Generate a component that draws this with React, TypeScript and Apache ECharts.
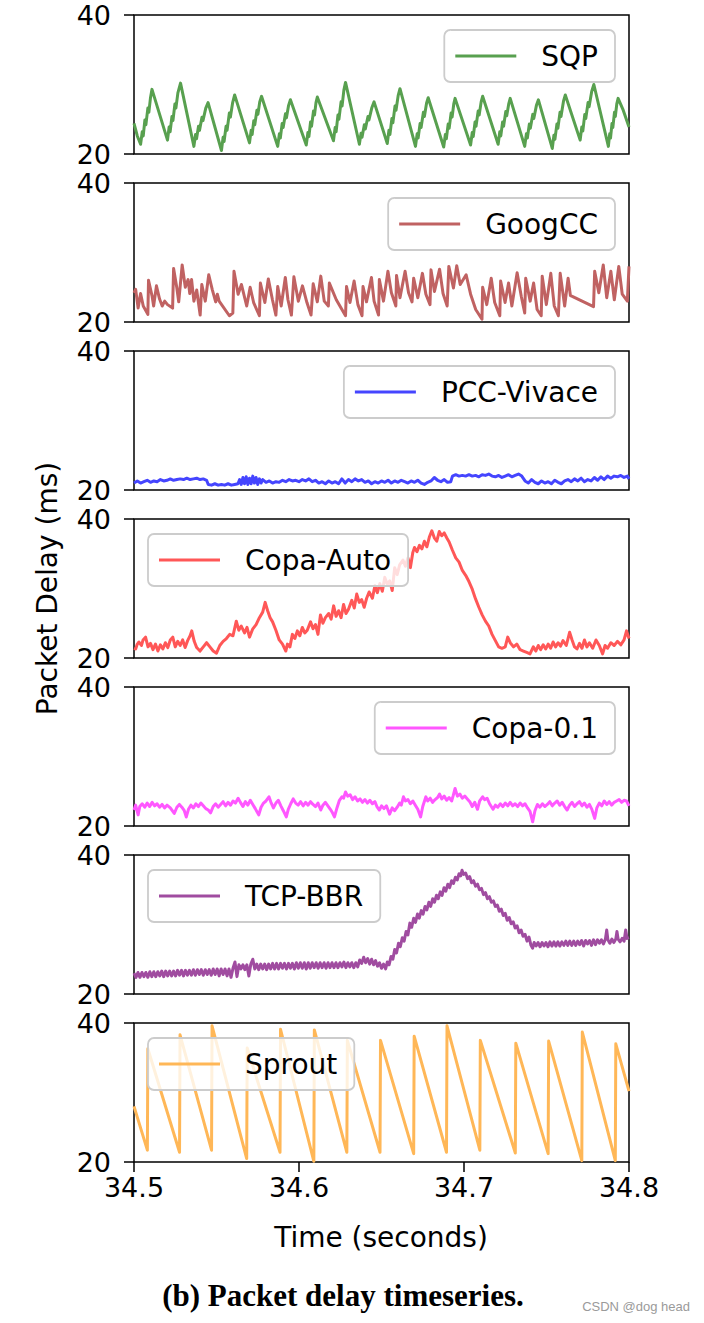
import React, { useEffect, useRef } from 'react';
import * as echarts from 'echarts';

// time axis (seconds); series times are given in milliseconds after 34.5 s
const T0 = 34.5;
const X_MIN = 34.5;
const X_MAX = 34.8;
const X_STEP = 0.1;
const Y_MIN = 20;
const Y_MAX = 40;
const Y_STEP = 20;

const seriesNames = ['SQP', 'GoogCC', 'PCC-Vivace', 'Copa-Auto', 'Copa-0.1', 'TCP-BBR', 'Sprout'];
const seriesColors = ['#58a04f', '#c06262', '#4545ff', '#ff5757', '#ff57ff', '#a04ca0', '#ffb757'];
const legendSides = ['right', 'right', 'right', 'left', 'right', 'left', 'left'];

const sqp: number[][] = [
  [0, 24.4], [2.0, 22.6], [4.0, 21.4],
  [5.0, 23.2], [5.6, 22.6], [6.6, 24.9], [7.2, 24.2], [8.4, 26.6], [9.0, 26.0], [10.0, 28.1], [10.9, 29.3],
  [20.3, 22.0],
  [21.3, 23.9], [21.9, 23.2], [23.0, 25.4], [23.6, 24.8], [24.8, 27.2], [25.4, 26.6], [26.6, 28.8], [28.2, 30.2],
  [36.3, 21.1],
  [37.3, 22.8], [37.9, 22.2], [39.1, 24.0], [39.7, 23.4], [41.2, 25.3], [41.8, 24.8], [43.5, 26.6], [44.9, 27.4],
  [53.0, 20.5],
  [54.0, 22.4], [54.6, 21.8], [55.8, 24.0], [56.4, 23.4], [57.8, 25.9], [58.4, 25.3], [59.8, 27.4], [61.0, 28.5],
  [70.0, 21.6],
  [71.0, 23.4], [71.6, 22.8], [72.6, 24.8], [73.2, 24.2], [74.5, 26.3], [75.1, 25.7], [76.2, 27.5], [77.3, 28.3],
  [87.1, 21.1],
  [88.1, 22.9], [88.7, 22.3], [89.8, 24.4], [90.4, 23.8], [91.8, 25.8], [92.4, 25.2], [93.7, 27.0], [94.8, 27.8],
  [104.4, 21.3],
  [105.4, 23.1], [106.0, 22.5], [107.0, 24.6], [107.6, 24.0], [108.8, 26.2], [109.4, 25.6], [110.3, 27.4], [111.1, 28.2],
  [120.9, 21.9],
  [121.9, 23.8], [122.5, 23.2], [123.6, 25.6], [124.2, 25.0], [125.5, 27.5], [126.1, 26.9], [127.2, 29.2], [128.2, 30.3],
  [136.6, 21.4],
  [137.6, 23.0], [138.2, 22.4], [139.6, 24.2], [140.2, 23.6], [141.8, 25.4], [142.4, 24.9], [144.2, 26.7], [145.5, 27.5],
  [153.5, 21.5],
  [154.5, 23.4], [155.1, 22.8], [156.3, 25.1], [156.9, 24.5], [158.2, 26.9], [158.8, 26.3], [160.1, 28.4], [161.2, 29.4],
  [170.6, 21.1],
  [171.6, 22.9], [172.2, 22.3], [173.4, 24.4], [174.0, 23.8], [175.4, 26.0], [176.0, 25.4], [177.3, 27.3], [178.3, 28.1],
  [187.7, 21.0],
  [188.7, 22.8], [189.3, 22.2], [190.4, 24.3], [191.0, 23.7], [192.2, 25.9], [192.8, 25.3], [193.8, 27.2], [194.6, 28.0],
  [204.0, 21.3],
  [205.0, 23.1], [205.6, 22.5], [206.7, 24.6], [207.3, 24.0], [208.6, 26.2], [209.2, 25.6], [210.4, 27.5], [211.3, 28.3],
  [220.7, 21.4],
  [221.7, 23.2], [222.3, 22.6], [223.4, 24.6], [224.0, 24.0], [225.3, 26.1], [225.9, 25.5], [227.1, 27.2], [228.0, 28.0],
  [236.8, 21.1],
  [237.8, 22.9], [238.4, 22.3], [239.6, 24.3], [240.2, 23.7], [241.7, 25.7], [242.3, 25.1], [243.9, 27.0], [245.1, 27.8],
  [253.5, 20.8],
  [254.5, 22.7], [255.1, 22.1], [256.3, 24.3], [256.9, 23.7], [258.2, 26.0], [258.8, 25.4], [260.3, 27.6], [261.4, 28.5],
  [270.4, 22.0],
  [271.4, 23.9], [272.0, 23.3], [273.2, 25.7], [273.8, 25.1], [275.2, 27.4], [275.8, 26.8], [277.4, 29.0], [278.7, 30.0],
  [287.5, 21.1],
  [288.3, 22.9], [288.8, 22.3], [289.7, 24.4], [290.2, 23.8], [291.2, 26.0], [291.7, 25.4], [292.6, 27.2], [293.4, 28.0],
  [296.5, 26.3], [300.0, 23.9],
];

const googcc: number[][] = [
  [0, 24.2], [1.0, 24.7], [2.5, 22.0], [4.0, 24.1], [5.6, 22.3], [8.4, 21.1], [8.8, 26.0], [10.9, 23.8], [11.9, 22.3],
  [13.6, 25.2], [15.5, 23.3], [17.1, 22.3], [18.6, 23.0], [20.3, 22.5], [23.4, 22.0], [24.0, 27.7], [25.9, 25.0],
  [27.1, 22.9], [29.2, 28.2], [31.1, 25.0], [32.8, 26.1], [33.8, 24.1], [34.9, 26.1], [36.3, 23.0], [38.0, 24.6],
  [40.1, 21.0], [41.1, 25.4], [43.2, 23.0], [45.3, 26.8], [47.4, 24.7], [49.5, 22.9], [50.5, 24.0], [51.6, 23.0],
  [57.8, 20.9], [59.9, 21.3], [60.6, 27.3], [63.1, 24.0], [65.1, 25.4], [68.3, 22.3], [70.4, 25.0], [72.5, 22.8],
  [76.0, 20.9], [76.6, 25.6], [79.3, 22.8], [81.4, 26.2], [83.9, 23.2], [86.0, 21.0], [87.1, 25.1], [89.2, 22.3],
  [91.7, 26.4], [93.3, 23.2], [95.4, 21.0], [96.9, 26.5], [99.6, 23.0], [102.1, 25.2], [104.8, 22.8], [107.3, 21.0],
  [108.6, 25.5], [111.1, 22.9], [113.2, 26.6], [115.3, 23.0], [117.8, 22.3], [118.4, 25.6], [122.6, 23.2],
  [128.2, 20.9], [128.8, 25.1], [130.9, 22.8], [133.4, 25.9], [135.7, 22.5], [138.2, 20.9], [138.8, 25.1],
  [140.9, 22.9], [143.9, 26.4], [145.5, 23.0], [148.2, 21.0], [148.7, 26.1], [151.2, 23.0], [153.9, 27.3],
  [156.0, 24.2], [158.7, 22.3], [159.1, 26.7], [161.2, 23.5], [164.3, 27.3], [166.4, 24.2], [168.5, 22.9],
  [169.5, 26.3], [172.0, 23.5], [174.8, 27.0], [176.9, 24.0], [179.4, 22.5], [180.0, 27.5], [182.1, 24.4],
  [185.2, 27.6], [187.3, 24.1], [189.8, 22.3], [190.8, 28.0], [193.6, 24.9], [195.6, 28.1], [197.7, 25.4],
  [201.3, 26.8], [204.0, 24.0], [207.1, 21.8], [210.9, 20.4], [211.3, 25.0], [213.8, 22.5], [216.5, 26.3],
  [218.6, 22.8], [221.7, 20.9], [222.2, 25.9], [224.9, 22.8], [227.0, 25.6], [229.0, 22.3], [232.2, 27.1],
  [234.7, 23.7], [236.8, 21.3], [237.4, 26.3], [240.1, 23.0], [242.2, 25.6], [244.3, 21.8], [246.8, 20.9],
  [247.4, 26.6], [249.9, 22.5], [252.6, 27.0], [254.7, 22.3], [257.2, 20.9], [258.3, 27.0], [261.0, 22.3],
  [263.1, 26.3], [264.5, 23.8], [265.6, 23.7], [278.5, 22.2], [279.2, 27.3], [281.7, 24.2], [284.4, 28.2],
  [286.5, 23.5], [289.0, 27.3], [291.1, 23.2], [293.8, 28.0], [295.9, 24.0], [299.0, 23.0], [300.0, 28.0],
];

const pccVivace: number[][] = [
  [0, 21.0], [2, 21.3], [4, 21.0], [6, 21.2], [8, 21.4], [10, 21.1], [12, 21.3], [14, 21.2], [16, 21.5], [18, 21.3],
  [20, 21.4], [22, 21.6], [24, 21.4], [26, 21.5], [28, 21.6], [30, 21.5], [32, 21.7], [34, 21.5], [36, 21.6], [38, 21.7],
  [40, 21.5], [42, 21.6], [44, 21.4], [45, 20.8], [47, 20.7], [49, 20.9], [51, 20.7], [53, 20.8], [55, 20.7], [57, 20.9],
  [59, 20.7], [61, 20.8], [63, 20.9], [64, 21.5], [65, 20.8], [66, 21.8], [67, 20.9], [68, 21.9], [69, 20.8], [70, 21.7],
  [71, 20.9], [72, 22.0], [73, 21.0], [74, 21.8], [75, 20.8], [76, 21.6], [77, 21.0], [78, 21.5], [80, 21.1], [82, 21.3],
  [84, 21.0], [86, 21.2], [88, 21.1], [90, 21.4], [92, 21.2], [94, 21.5], [96, 21.3], [98, 21.4], [100, 21.2], [102, 21.5],
  [104, 21.3], [106, 21.6], [108, 21.2], [110, 21.4], [112, 21.0], [114, 21.2], [116, 20.9], [118, 21.3], [120, 21.0],
  [122, 21.2], [124, 20.9], [126, 21.6], [128, 21.0], [130, 21.5], [132, 21.2], [134, 21.6], [136, 21.3], [138, 21.5],
  [140, 21.1], [142, 21.3], [144, 20.9], [146, 21.2], [148, 21.0], [150, 21.3], [152, 21.1], [154, 21.4], [156, 21.0],
  [158, 21.3], [160, 21.1], [162, 21.4], [164, 21.2], [166, 21.0], [168, 21.3], [170, 21.1], [172, 21.4], [174, 21.0],
  [176, 20.8], [178, 21.1], [180, 21.3], [182, 21.8], [184, 21.4], [186, 21.2], [188, 21.5], [190, 21.1], [192, 21.2],
  [193, 22.0], [195, 22.2], [197, 22.0], [199, 22.1], [201, 22.0], [203, 22.2], [205, 22.0], [207, 22.1], [209, 21.9],
  [211, 22.2], [213, 22.1], [215, 22.3], [217, 22.0], [219, 21.9], [221, 22.1], [223, 21.8], [225, 22.0], [227, 22.2],
  [229, 21.9], [231, 22.1], [233, 22.3], [235, 22.0], [237, 21.3], [239, 21.0], [241, 21.5], [243, 21.1], [245, 20.9],
  [247, 21.3], [249, 21.0], [251, 21.2], [253, 20.9], [255, 21.4], [257, 21.1], [259, 20.9], [261, 21.3], [263, 21.5],
  [265, 21.2], [267, 21.6], [269, 21.3], [271, 21.7], [273, 21.2], [275, 21.5], [277, 21.3], [279, 21.8], [281, 21.4],
  [283, 21.9], [285, 21.5], [287, 22.0], [289, 21.7], [291, 22.0], [293, 21.9], [295, 22.1], [297, 21.8], [299, 22.0],
  [300, 21.6],
];

const copaAuto: number[][] = [
  [0, 21.4], [1.0, 21.3], [2.0, 22.0], [3.0, 22.3], [4.5, 21.8], [5.5, 22.6], [7.0, 23.0], [8.5, 21.6], [10, 22.1],
  [11.5, 21.2], [13, 22.0], [14.5, 21.0], [16, 21.9], [17.5, 21.3], [19, 22.2], [20.5, 21.5], [22, 22.6], [23.5, 23.0],
  [25, 21.6], [26.5, 22.4], [28, 21.8], [29.5, 22.6], [31, 21.5], [32.5, 22.5], [34, 23.2], [35, 23.9], [36.5, 22.4],
  [38, 21.5], [40, 21.0], [42, 21.6], [44, 22.2], [46, 21.6], [48, 21.0], [50, 20.7], [52, 21.8], [54, 22.4], [56, 22.8],
  [58, 23.4], [60, 23.2], [62, 25.3], [63.5, 24.0], [65, 24.6], [67, 23.6], [68.5, 24.4], [70, 23.0], [72, 24.2],
  [74, 24.8], [76, 25.8], [78, 26.6], [79.5, 28.0], [81, 26.8], [82.5, 25.8], [84, 25.2], [86, 24.0], [88, 22.6],
  [90, 22.0], [92, 21.0], [93, 22.0], [94.5, 21.6], [96, 23.4], [97.5, 22.8], [99, 23.9], [100.5, 23.2], [102, 24.4],
  [103.5, 23.6], [105, 24.0], [107, 25.2], [108.5, 24.2], [110, 24.8], [111.5, 23.4], [113, 26.2], [114.5, 25.0],
  [116, 25.8], [118, 26.4], [119.5, 25.6], [121, 27.5], [122.5, 26.0], [124, 26.8], [125.5, 25.8], [127, 27.7],
  [128.5, 26.4], [130, 27.0], [132, 28.3], [133.5, 27.2], [135, 29.2], [136.5, 28.0], [138, 28.4], [139.5, 27.3],
  [141, 28.6], [142.5, 29.5], [144.5, 28.6], [146, 30.4], [147.5, 29.4], [149, 30.7], [150.5, 29.6], [152, 31.6],
  [153.5, 30.6], [155, 31.1], [156.5, 29.7], [158, 33.0], [159.5, 32.0], [161, 33.4], [163, 34.1], [164.5, 33.2],
  [166, 34.4], [167.5, 33.0], [169, 35.2], [170, 35.9], [171.5, 35.3], [173, 36.2], [174.5, 35.7], [176, 36.8],
  [177.5, 36.0], [179, 37.4], [180.5, 38.3], [182, 37.3], [183.5, 36.8], [185, 38.2], [186.5, 37.6], [188, 38.0],
  [189.5, 37.3], [191, 36.7], [193, 35.5], [195, 34.4], [197, 33.8], [199, 32.6], [201, 31.9], [203, 31.0], [205, 29.9],
  [207, 28.5], [209, 27.3], [211, 26.2], [213, 25.3], [215, 24.6], [217, 23.4], [219, 22.5], [221, 21.6], [223, 21.4],
  [225, 21.6], [226.5, 23.0], [228, 22.2], [230, 21.6], [232, 22.0], [234, 21.2], [236, 21.0], [238, 20.8], [240, 20.6],
  [242, 21.6], [243.5, 21.0], [245, 21.8], [246.5, 21.2], [248, 21.9], [249.5, 21.3], [251, 22.0], [252.5, 21.4],
  [254, 22.3], [255.5, 21.6], [257, 22.2], [258.5, 21.7], [260, 22.5], [262, 21.8], [264, 23.7], [265.5, 22.6],
  [267, 21.6], [268.5, 21.3], [270, 22.1], [271.5, 21.4], [273, 22.6], [274.5, 21.6], [276, 22.2], [278, 21.4],
  [280, 22.6], [282, 21.8], [284, 20.6], [285.5, 21.8], [287, 21.4], [289, 22.2], [291, 21.8], [293, 22.4], [295, 21.9],
  [297, 22.6], [298.5, 23.9], [300, 22.8],
];

const copa01: number[][] = [
  [0, 22.3], [1, 23.0], [2.5, 21.6], [3.5, 22.8], [5, 23.2], [6.5, 22.7], [8, 23.3], [9.5, 22.8], [11, 23.4], [12.5, 22.9],
  [14, 23.2], [15.5, 22.7], [17, 23.1], [18.5, 22.6], [20, 23.0], [22, 22.6], [24.4, 21.8], [26, 22.7], [27.5, 23.1],
  [29, 22.7], [30.5, 22.2], [31.7, 21.3], [33, 22.4], [34.5, 23.0], [36, 22.6], [37.5, 23.2], [39, 22.8], [40.5, 23.3],
  [42, 22.9], [43.5, 22.5], [45, 22.3], [46.4, 21.9], [48, 22.8], [49.5, 23.2], [51, 22.7], [52.5, 23.1], [54, 23.5],
  [55.5, 22.9], [57, 23.4], [58.5, 23.0], [60, 23.6], [61.5, 23.3], [63.1, 24.0], [64.5, 23.4], [66, 22.8], [67.5, 23.5],
  [69, 23.0], [70.5, 23.7], [72, 23.1], [73.5, 22.5], [75.6, 21.6], [77, 22.7], [78.5, 23.3], [80, 23.6], [81.8, 24.2],
  [83, 23.4], [84.5, 22.6], [86, 23.3], [87.5, 23.7], [89, 22.9], [90.5, 22.2], [92.3, 21.3], [93.5, 22.4], [95, 23.2],
  [96.5, 23.9], [98, 23.3], [99.5, 23.0], [101, 23.5], [102.5, 22.9], [104, 23.4], [105.5, 23.0], [107, 23.5],
  [108.5, 23.1], [110, 22.8], [111.5, 23.3], [113.2, 22.3], [114.5, 23.0], [116, 23.4], [117.5, 22.9], [119, 22.4],
  [120.3, 21.9], [121.5, 21.3], [123, 22.6], [124.5, 23.7], [126, 24.2], [127, 24.0], [128.2, 24.9], [129.5, 24.3],
  [131, 24.5], [132.5, 23.8], [134, 24.2], [135.5, 23.6], [137, 23.9], [138.5, 23.4], [140, 23.8], [141.5, 23.3],
  [143, 23.7], [144.5, 23.2], [146, 23.5], [147.2, 22.8], [148.7, 22.3], [150, 22.9], [151.5, 22.5], [153, 22.9],
  [154.9, 21.7], [156.5, 22.6], [158, 22.2], [159.5, 22.7], [161, 23.3], [162, 23.0], [163.3, 24.2], [164.5, 23.6],
  [166, 23.8], [167.5, 23.2], [169, 23.6], [170.5, 23.0], [172, 22.4], [173.7, 21.3], [175, 22.8], [176.9, 24.2],
  [178, 23.6], [179.5, 24.0], [181, 23.4], [182.5, 23.8], [184, 24.1], [185.2, 24.6], [186.5, 23.9], [188, 24.3],
  [189.5, 23.7], [191, 24.1], [192.5, 23.6], [193.5, 24.4], [194.6, 25.4], [196, 24.3], [197.5, 24.6], [199, 24.0],
  [200.5, 24.3], [202, 23.9], [203.5, 23.5], [205, 22.8], [206.5, 23.4], [208.2, 22.4], [209.5, 23.6], [211.3, 24.2],
  [212.5, 23.8], [214, 24.0], [215.5, 23.2], [217.6, 22.4], [219, 23.0], [220.5, 22.7], [222, 23.2], [223.5, 22.8],
  [225, 23.3], [226.5, 22.9], [228, 23.4], [229.5, 22.9], [231, 23.2], [232.5, 22.8], [234, 23.3], [235.5, 22.9],
  [237, 23.2], [238.5, 22.6], [240, 22.1], [241.6, 20.6], [243, 22.2], [244.5, 23.1], [246, 22.7], [247.5, 23.2],
  [249, 22.8], [250.5, 23.1], [252, 23.5], [253.5, 22.9], [255, 23.3], [256.5, 23.6], [258, 23.0], [259.5, 23.4],
  [261, 22.8], [262.5, 22.3], [264, 23.0], [265.5, 23.4], [267, 22.8], [268.5, 23.2], [270, 23.5], [271.5, 22.9],
  [273, 23.3], [274.5, 22.7], [276, 23.1], [277.5, 22.4], [279.2, 21.1], [280.5, 22.6], [282, 23.3], [283.5, 22.9],
  [285, 23.6], [286.5, 23.1], [288, 23.5], [289.5, 23.0], [291, 23.4], [292.5, 23.6], [294, 23.8], [295.5, 23.4],
  [297, 23.7], [298.5, 23.6], [300, 22.9],
];

const tcpBbr: number[][] = [
  [0, 23.0], [1.2, 22.4], [2.4, 23.1], [3.6, 22.4], [4.8, 23.1], [6.0, 22.5], [7.2, 23.1], [8.4, 22.4], [9.6, 23.2],
  [10.8, 22.5], [12.0, 23.2], [13.2, 22.5], [14.4, 23.2], [15.6, 22.6], [16.8, 23.3], [18.0, 22.5], [19.2, 23.3],
  [20.4, 22.6], [21.6, 23.3], [22.8, 22.6], [24.0, 23.3], [25.2, 22.6], [26.4, 23.4], [27.6, 22.7], [28.8, 23.4],
  [30.0, 22.6], [31.2, 23.4], [32.4, 22.7], [33.6, 23.4], [34.8, 22.7], [36.0, 23.5], [37.2, 22.7], [38.4, 23.5],
  [39.6, 22.8], [40.8, 23.5], [42.0, 22.7], [43.2, 23.5], [44.4, 22.8], [45.6, 23.5], [46.8, 22.7], [48.0, 23.6],
  [49.2, 22.8], [50.4, 23.6], [51.6, 22.6], [52.8, 23.6], [54.0, 22.8], [55.2, 23.6], [56.4, 22.6], [57.6, 23.6],
  [58.8, 22.4], [60.0, 23.7], [61.2, 24.6], [62.4, 22.5], [63.6, 24.2],
  [64.8, 23.6], [66.0, 24.2], [67.2, 23.5], [68.4, 24.2], [69.6, 22.6], [70.8, 24.3], [72.0, 25.0], [73.2, 23.6],
  [74.4, 24.3], [75.6, 23.5], [76.8, 24.3], [78.0, 23.6], [79.2, 24.3], [80.4, 23.5], [81.6, 24.3], [82.8, 23.6],
  [84.0, 24.4], [85.2, 23.6], [86.4, 24.4], [87.6, 23.6], [88.8, 24.4], [90.0, 23.7], [91.2, 24.4], [92.4, 23.6],
  [93.6, 24.4], [94.8, 23.7], [96.0, 24.4], [97.2, 23.6], [98.4, 24.5], [99.6, 23.7], [100.8, 24.5], [102.0, 23.7],
  [103.2, 24.5], [104.4, 23.6], [105.6, 24.5], [106.8, 23.7], [108.0, 24.5], [109.2, 23.8], [110.4, 24.5], [111.6, 23.7],
  [112.8, 24.5], [114.0, 23.8], [115.2, 24.5], [116.4, 23.7], [117.6, 24.5], [118.8, 23.8], [120.0, 24.5], [121.2, 23.8],
  [122.4, 24.5], [123.6, 23.8], [124.8, 24.5], [126.0, 23.9], [127.2, 24.6], [128.4, 23.8], [129.6, 24.5], [130.8, 23.9],
  [132.0, 24.5], [133.2, 23.8], [134.4, 24.5], [135.6, 23.9],
  [136.8, 24.9], [138.0, 24.4], [139.2, 25.3], [140.4, 24.5], [141.6, 25.1], [142.8, 24.3], [144.0, 25.0], [145.2, 24.2],
  [146.4, 24.8], [147.6, 24.0], [148.8, 24.5], [150.0, 23.7], [151.2, 24.3], [152.5, 23.6],
  [153.5, 24.6], [154.6, 24.2], [155.8, 25.4], [156.9, 25.0], [158.0, 26.4], [159.1, 25.9], [160.3, 27.3], [161.4, 26.8],
  [162.6, 28.1], [163.7, 27.6], [164.9, 29.0], [166.0, 28.5], [167.2, 30.2], [168.3, 29.6], [169.5, 30.9], [170.6, 30.3],
  [171.8, 31.5], [172.9, 30.9], [174.1, 32.0], [175.2, 31.5], [176.4, 32.6], [177.5, 32.1], [178.7, 33.2], [179.8, 32.6],
  [181.0, 33.7], [182.1, 33.2], [183.3, 34.2], [184.4, 33.7], [185.6, 34.7], [186.7, 34.2], [187.9, 35.3], [189.0, 34.8],
  [190.2, 35.8], [191.3, 35.3], [192.5, 36.3], [193.6, 35.9], [194.8, 36.8], [195.9, 36.4], [197.0, 37.3], [198.0, 37.0],
  [198.8, 37.8],
  [199.8, 37.2], [201.0, 37.4], [202.2, 36.6], [203.4, 36.9], [204.6, 36.0], [205.8, 36.3], [207.0, 35.5], [208.2, 35.8],
  [209.4, 35.0], [210.6, 35.2], [211.8, 34.3], [213.0, 34.6], [214.2, 33.7], [215.4, 34.0], [216.6, 33.2], [217.8, 33.4],
  [219.0, 32.6], [220.2, 32.8], [221.4, 31.9], [222.6, 32.2], [223.8, 31.3], [225.0, 31.6], [226.2, 30.6], [227.4, 31.0],
  [228.6, 30.1], [229.8, 30.4], [231.0, 29.5], [232.2, 29.8], [233.4, 28.8], [234.6, 29.2], [235.8, 28.3], [237.0, 28.6],
  [238.2, 27.6], [239.4, 28.2], [240.6, 27.0], [241.6, 26.6], [242.5, 27.4],
  [243.7, 26.9], [244.9, 27.4], [246.1, 26.8], [247.3, 27.4], [248.5, 26.9], [249.7, 27.4], [250.9, 26.8], [252.1, 27.5],
  [253.3, 26.9], [254.5, 27.5], [255.7, 26.9], [256.9, 27.5], [258.1, 26.9], [259.3, 27.5], [260.5, 27.0], [261.7, 27.6],
  [262.9, 27.0], [264.1, 27.6], [265.3, 27.0], [266.5, 27.6], [267.7, 27.0], [268.9, 27.6], [270.1, 27.1], [271.3, 27.7],
  [272.5, 26.9], [273.7, 27.7], [274.9, 27.2], [276.1, 27.7], [277.3, 27.0], [278.5, 27.8], [279.7, 27.1], [280.9, 27.8],
  [282.1, 27.3], [283.3, 27.8], [284.5, 27.2], [285.7, 27.9], [286.5, 29.2], [287.2, 27.8], [288.4, 27.3], [289.6, 27.9],
  [290.8, 27.4], [292.0, 27.9], [292.7, 29.0], [293.4, 27.9], [294.6, 27.5], [295.8, 28.0], [297.0, 27.6], [298.0, 29.2],
  [298.8, 28.0], [300, 28.1],
];

const sprout: number[][] = [
  [0, 28.0], [8.1, 21.7], [8.4, 36.3], [27.6, 21.4], [27.9, 38.3], [47.0, 21.7], [47.3, 39.6], [68.3, 20.5],
  [68.6, 36.4], [88.5, 21.4], [88.8, 39.1], [109.0, 20.1], [109.3, 39.0], [129.0, 21.4], [129.3, 37.5],
  [149.1, 21.4], [149.4, 37.5], [169.5, 21.2], [169.8, 38.1], [189.4, 21.4], [189.7, 39.6], [209.6, 21.7],
  [209.9, 37.5], [231.1, 21.3], [231.4, 37.1], [251.0, 21.2], [251.3, 37.4], [271.4, 20.2], [271.7, 38.7],
  [291.7, 20.2], [292.0, 37.0], [300, 30.2],
];

const allSeries = [sqp, googcc, pccVivace, copaAuto, copa01, tcpBbr, sprout];

const xAxisTitle = 'Time (seconds)';
const yAxisTitle = 'Packet Delay (ms)';
const captionText = '(b) Packet delay timeseries.';
const watermarkText = 'CSDN @dog head';

// layout
const W = 704;
const H = 1323;
const PLOT_LEFT = 134;
const PLOT_RIGHT = 629;
const PANEL_TOP = 15;
const PANEL_H = 139;
const PANEL_STEP = 168;
const FONT = '"DejaVu Sans", sans-serif';
const LINE_W = 3;

function measure(text: string, font: string): number {
  const c = document.createElement('canvas').getContext('2d');
  if (!c) return text.length * 16;
  c.font = font;
  return c.measureText(text).width;
}

export default function App() {
  const ref = useRef<HTMLDivElement>(null);
  useEffect(() => {
    if (!ref.current) return;
    const chart = echarts.init(ref.current, null, { renderer: 'svg' });
    const n = seriesNames.length;
    const grids: any[] = [];
    const xAxes: any[] = [];
    const yAxes: any[] = [];
    const series: any[] = [];
    const graphics: any[] = [];
    for (let i = 0; i < n; i++) {
      const top = PANEL_TOP + PANEL_STEP * i;
      const last = i === n - 1;
      grids.push({
        left: PLOT_LEFT, width: PLOT_RIGHT - PLOT_LEFT, top, height: PANEL_H,
        show: true, borderColor: '#000', borderWidth: 1.5, containLabel: false,
      });
      xAxes.push({
        type: 'value', gridIndex: i, min: X_MIN, max: X_MAX, interval: X_STEP,
        axisLine: { show: false },
        splitLine: { show: false },
        axisTick: { show: last, length: 10, lineStyle: { color: '#000', width: 1.5 } },
        axisLabel: {
          show: last, color: '#000', fontSize: 27, fontFamily: FONT, margin: 12,
          formatter: (v: number) => v.toFixed(1),
        },
      });
      yAxes.push({
        type: 'value', gridIndex: i, min: Y_MIN, max: Y_MAX, interval: Y_STEP,
        axisLine: { show: false },
        splitLine: { show: false },
        axisTick: { show: true, length: 10, lineStyle: { color: '#000', width: 1.5 } },
        axisLabel: { color: '#000', fontSize: 27, fontFamily: FONT, margin: 23 },
      });
      series.push({
        type: 'line', name: seriesNames[i], xAxisIndex: i, yAxisIndex: i,
        data: allSeries[i].map((p) => [T0 + p[0] / 1000, p[1]]),
        showSymbol: false, symbol: 'none', clip: true,
        lineStyle: { color: seriesColors[i], width: LINE_W, join: 'round' },
        itemStyle: { color: seriesColors[i] },
      });
      // legend box
      const legendFont = `28px ${FONT}`;
      const tw = measure(seriesNames[i], legendFont);
      const bw = 100 + tw + 14;
      const bh = 52;
      const bx = legendSides[i] === 'right' ? PLOT_RIGHT - 14 - bw : PLOT_LEFT + 14;
      const by = top + 15;
      graphics.push({
        type: 'group', z: 100,
        children: [
          {
            type: 'rect', z: 100,
            shape: { x: bx, y: by, width: bw, height: bh, r: 6 },
            style: { fill: 'rgba(255,255,255,0.8)', stroke: '#cccccc', lineWidth: 1.8 },
          },
          {
            type: 'line', z: 101,
            shape: { x1: bx + 11, y1: by + bh / 2, x2: bx + 72, y2: by + bh / 2 },
            style: { stroke: seriesColors[i], lineWidth: LINE_W },
          },
          {
            type: 'text', z: 101, x: bx + 97, y: by + bh / 2,
            style: {
              text: seriesNames[i], font: legendFont, fill: '#000',
              textAlign: 'left', textVerticalAlign: 'middle', align: 'left', verticalAlign: 'middle',
            },
          },
        ],
      });
    }
    const midY = PANEL_TOP + (PANEL_STEP * (n - 1) + PANEL_H) / 2;
    graphics.push(
      {
        type: 'text', z: 100, x: 47, y: midY, rotation: Math.PI / 2,
        style: {
          text: yAxisTitle, font: `28px ${FONT}`, fill: '#000',
          textAlign: 'center', textVerticalAlign: 'middle', align: 'center', verticalAlign: 'middle',
        },
      },
      {
        type: 'text', z: 100, x: 381, y: 1237,
        style: {
          text: xAxisTitle, font: `28px ${FONT}`, fill: '#000',
          textAlign: 'center', textVerticalAlign: 'middle', align: 'center', verticalAlign: 'middle',
        },
      },
      {
        type: 'text', z: 100, x: 343, y: 1295,
        style: {
          text: captionText, font: 'bold 31px "Liberation Serif", serif', fill: '#000',
          textAlign: 'center', textVerticalAlign: 'middle', align: 'center', verticalAlign: 'middle',
        },
      },
      {
        type: 'text', z: 100, x: 690, y: 1306,
        style: {
          text: watermarkText, font: '13px "Liberation Sans", sans-serif', fill: '#9a9a9a',
          textAlign: 'right', textVerticalAlign: 'middle', align: 'right', verticalAlign: 'middle',
        },
      },
    );
    chart.setOption({
      animation: false,
      backgroundColor: '#fff',
      grid: grids,
      xAxis: xAxes,
      yAxis: yAxes,
      series,
      graphic: { elements: graphics },
    });
    return () => chart.dispose();
  }, []);
  return (
    <div
      ref={ref}
      style={{ position: 'absolute', left: 0, top: 0, width: W, height: H }}
    />
  );
}
